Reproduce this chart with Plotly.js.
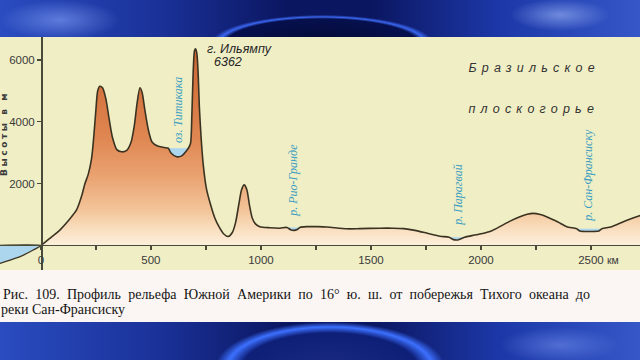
<!DOCTYPE html>
<html><head><meta charset="utf-8">
<script src="https://cdn.plot.ly/plotly-3.0.1.min.js"></script>
<style>
html,body{margin:0;padding:0;width:640px;height:360px;overflow:hidden;}
body{position:relative;background:
 radial-gradient(ellipse 115px 30px at 322px 44px, #040a34 0%, #06104e 84%, #3a66f0 90%, rgba(40,80,220,0) 97%),
 radial-gradient(ellipse 125px 50px at 330px 368px, #1a2a80 0%, #0e1f78 70%, #3c70ff 82%, rgba(40,80,220,0) 92%),
 radial-gradient(ellipse 60px 20px at 60px 20px, rgba(140,170,255,0.55), rgba(140,170,255,0)),
 radial-gradient(ellipse 50px 16px at 560px 15px, rgba(170,195,255,0.55), rgba(170,195,255,0)),
 radial-gradient(ellipse 60px 18px at 560px 345px, rgba(120,150,240,0.5), rgba(120,150,240,0)),
 linear-gradient(90deg, #2a4cc0 0%, #1a3198 25%, #0b1660 45%, #0b1660 58%, #1c38a8 78%, #3657c8 100%);}
#band{position:absolute;left:0;top:270px;width:640px;height:52px;background:#fbf6f3;}
#chart{position:absolute;left:0;top:0;width:640px;height:360px;}
</style></head><body>
<div id="band"></div><div id="chart"></div>
<script>
// Land profile along 16° S (distance from the Pacific coast, km; elevation, m)
const distanceKm = [0,40,86,130,162,185,200,215,230,240,250,258,268,280,295,310,325,345,367,390,410,425,437,450,460,472,488,505,530,560,579,590,617,640,660,670,680,686,692,698,703,709,715,720,728,738,752,770,790,810,830,851,870,885,900,912,924,936,948,960,975,995,1040,1086,1118,1135,1150,1165,1177,1208,1260,1300,1390,1450,1541,1600,1650,1700,1760,1814,1855,1875,1895,1925,1960,1995,2050,2086,2130,2177,2210,2238,2270,2298,2350,2390,2435,2450,2500,2535,2550,2590,2632,2670,2708,2740];
const elevationM = [0,230,500,850,1150,1600,2000,2300,2800,3500,4400,5000,5150,5100,4750,4100,3500,3100,3030,3080,3350,3900,4600,5100,4950,4400,3750,3350,3220,3170,3145,3000,2870,2900,3050,3145,3300,4200,5600,6300,6362,6200,5500,4500,3500,2600,1850,1350,900,600,380,290,420,750,1350,1800,1960,1800,1300,900,700,610,575,560,585,510,490,520,585,610,610,600,540,545,560,560,545,490,390,300,265,190,180,265,320,370,480,610,780,930,1010,1040,1000,930,760,610,545,470,455,470,545,600,720,830,930,1000];
// Pacific ocean floor
const oceanKm = [-200,-186,-140,-95,-35,0];
const oceanFloorM = [-610,-576,-470,-362,-145,0];
// Lake Titicaca
const lakeKm = [579,590,617,640,660,670];
const lakeBottomM = [3145,3000,2870,2900,3050,3145];
const lakeLevelM = 3145;
// Rivers
const rioGrandeKm = [1118,1135,1150,1165,1177];
const rioGrandeBottomM = [585,510,490,520,585];
const rioGrandeLevelM = 585;
const paraguayKm = [1855,1875,1895,1925];
const paraguayBottomM = [265,190,180,265];
const paraguayLevelM = 265;
const sanFranciscoKm = [2435,2450,2500,2535,2550];
const sanFranciscoBottomM = [545,470,455,470,545];
const sanFranciscoLevelM = 545;

const xTickVals = [0,500,1000,1500,2000,2500];
const xTickText = ['0','500','1000','1500','2000','2500'];
const xUnit = 'км';
const yTickVals = [2000,4000,6000];
const yTickText = ['2000','4000','6000'];

const WATER = '#acd5ee';
const EDGE = '#3b3322';
const AXIS = '#4a4a3a';

function waterBody(xs, bottom, level){
  return {x: xs.concat(xs.slice().reverse()),
          y: bottom.concat(xs.map(()=>level)),
          type:'scatter', mode:'lines', fill:'toself', fillcolor: WATER,
          line:{width:0, color: WATER}, hoverinfo:'skip', showlegend:false};
}

const traces = [
  {x: oceanKm.concat([-200]), y: oceanFloorM.concat([0]), type:'scatter', mode:'lines',
   fill:'toself', fillcolor: WATER, line:{color:EDGE, width:1.3, shape:'spline', smoothing:0.6}, showlegend:false},
  {x: distanceKm, y: elevationM, type:'scatter', mode:'lines', fill:'tozeroy',
   fillgradient:{type:'vertical', start:0, stop:6400,
     colorscale:[[0,'#fcf0dc'],[0.08,'#f9dfc0'],[0.18,'#f3c499'],[0.35,'#eaa271'],[0.55,'#df8651'],[0.8,'#d4733e'],[1,'#cc6634']]},
   line:{color:EDGE, width:0, shape:'spline', smoothing:0.7}, showlegend:false},
  waterBody(lakeKm, lakeBottomM, lakeLevelM),
  waterBody(rioGrandeKm, rioGrandeBottomM, rioGrandeLevelM),
  waterBody(paraguayKm, paraguayBottomM, paraguayLevelM),
  waterBody(sanFranciscoKm, sanFranciscoBottomM, sanFranciscoLevelM),
  {x: distanceKm, y: elevationM, type:'scatter', mode:'lines',
   line:{color:EDGE, width:1.6, shape:'spline', smoothing:0.7}, showlegend:false}
];

const blueLbl = {family:'Liberation Serif, serif', size:12, color:'#3c9fc2', style:'italic'};
const darkLbl = {family:'Liberation Sans, Arial, sans-serif', size:12.5, color:'#262626', style:'italic'};
const tickFont = {family:'Liberation Sans Narrow, Liberation Sans, Arial, sans-serif', size:11.5, color:'#3a3a3a'};

const layout = {
  width:640, height:360,
  margin:{l:0,r:0,t:37,b:90},
  paper_bgcolor:'rgba(0,0,0,0)', plot_bgcolor:'#f0eec5',
  showlegend:false,
  xaxis:{range:[-186,2723], anchor:'free', position:0.1052, showgrid:false, zeroline:false,
    showline:true, linecolor:AXIS, linewidth:1,
    tickvals:xTickVals, ticktext:xTickText, ticks:'outside', ticklen:4, tickwidth:1.3, tickcolor:AXIS,
    tickfont:tickFont,
    minor:{dtick:250, tick0:0, ticks:'outside', ticklen:4, tickwidth:1.3, tickcolor:AXIS}},
  yaxis:{range:[-792,6743], anchor:'free', position:0.0641, showgrid:false, zeroline:false,
    showline:true, linecolor:AXIS, linewidth:1.5,
    tickvals:yTickVals, ticktext:yTickText, ticks:'outside', ticklen:4, tickwidth:1.3, tickcolor:AXIS,
    tickfont:tickFont},
  annotations:[
    {xref:'paper', yref:'paper', x:4/640, xanchor:'center', y:(270-134)/233, yanchor:'middle', text:'Высоты в м', textangle:-90, showarrow:false,
     font:{family:'DejaVu Sans, sans-serif', size:9, color:'#3a3a3a', weight:700}},
    {x:xTickVals[5], y:-470, xanchor:'left', yanchor:'middle', xshift:14, text:xUnit, showarrow:false,
     font:{family:tickFont.family, size:10.5, color:'#3a3a3a'}},
    {x:745, y:6355, xanchor:'left', yanchor:'middle', text:'г. Ильямпу', showarrow:false, font:darkLbl},
    {x:777, y:5934, xanchor:'left', yanchor:'middle', text:'6362', showarrow:false, font:darkLbl},
    {x:2239, y:5740, text:'Бразильское', showarrow:false, font:{family:'Liberation Sans, Arial, sans-serif', size:12.5, color:'#333', style:'italic'}},
    {x:2239, y:4415, text:'плоскогорье', showarrow:false, font:{family:'Liberation Sans, Arial, sans-serif', size:12.5, color:'#333', style:'italic'}},
    {x:623, y:4380, text:'оз. Титикака', textangle:-90, showarrow:false, font:blueLbl},
    {x:1145, y:2118, text:'р. Рио-Гранде', textangle:-90, showarrow:false, font:blueLbl},
    {x:1895, y:1633, text:'р. Парагвай', textangle:-90, showarrow:false, font:blueLbl},
    {x:2486, y:2280, text:'р. Сан-Франсиску', textangle:-90, showarrow:false, font:blueLbl},
    {xref:'paper', yref:'paper', x:1/640, y:(270-294)/233, xanchor:'left', align:'left', yanchor:'middle', showarrow:false,
     text:'Рис. 109. Профиль рельефа Южной Америки по 16° ю. ш. от побережья Тихого океана до',
     font:{family:'Liberation Serif, Times New Roman, serif', size:14, color:'#141414'}},
    {xref:'paper', yref:'paper', x:-1/640, y:(270-309)/233, xanchor:'left', align:'left', yanchor:'middle', showarrow:false,
     text:'реки Сан-Франсиску',
     font:{family:'Liberation Serif, Times New Roman, serif', size:14, color:'#141414'}}
  ]
};

Plotly.newPlot('chart', traces, layout, {staticPlot:true, displayModeBar:false}).then(function(){
  document.querySelectorAll('#chart text').forEach(function(t){
    const s = t.textContent;
    if (s === 'Бразильское' || s === 'плоскогорье') t.style.letterSpacing = '5.2px';
    if (s === 'Высоты в м') t.style.letterSpacing = '2.6px';
    if (s.indexOf('Рис. 109.') === 0) {
      const L = t.getComputedTextLength();
      const n = (s.match(/ /g) || []).length;
      const ws = Math.max(0, (587 - L) / n);
      t.style.wordSpacing = ws.toFixed(2) + 'px';
    }
  });
});
</script>
</body></html>
